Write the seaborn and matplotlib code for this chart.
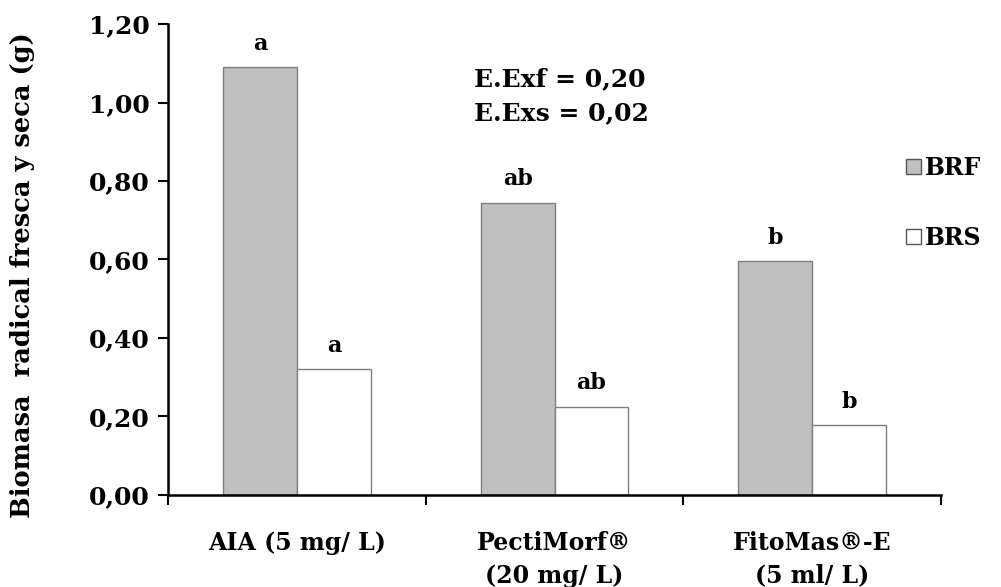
import matplotlib
matplotlib.use("Agg")
import matplotlib.pyplot as plt
import seaborn as sns
import pandas as pd

categories = ["AIA (5 mg/ L)", "PectiMorf®\n(20 mg/ L)", "FitoMas®-E\n(5 ml/ L)"]
series_names = ["BRF", "BRS"]
brf_values = [1.09, 0.745, 0.595]
brs_values = [0.32, 0.225, 0.178]
brf_letters = ["a", "ab", "b"]
brs_letters = ["a", "ab", "b"]
y_ticks = [0.0, 0.2, 0.4, 0.6, 0.8, 1.0, 1.2]
y_ticklabels = ["0,00", "0,20", "0,40", "0,60", "0,80", "1,00", "1,20"]

df = pd.DataFrame({
    "Tratamiento": categories * 2,
    "Serie": [series_names[0]] * 3 + [series_names[1]] * 3,
    "Valor": brf_values + brs_values,
})

sns.set_style("white")
plt.rcParams['font.family'] = ['DejaVu Serif']
plt.rcParams['font.weight'] = 'bold'
plt.rcParams['text.color'] = 'black'
plt.rcParams['xtick.color'] = 'black'
plt.rcParams['ytick.color'] = 'black'
plt.rcParams['axes.labelcolor'] = 'black'

fig = plt.figure(figsize=(10.01, 5.87), dpi=100)
ax = fig.add_axes([0.168, 0.157, 0.772, 0.802])

sns.barplot(data=df, x="Tratamiento", y="Valor", hue="Serie", order=categories,
            hue_order=series_names, palette={"BRF": "#C0C0C0", "BRS": "#FFFFFF"},
            width=0.574, gap=0, edgecolor="#7F7F7F", linewidth=1.0, ax=ax,
            legend=True)

# letters
letters = brf_letters + brs_letters
for patch, lab in zip(ax.patches[:6], letters):
    x = patch.get_x() + patch.get_width() / 2
    y = patch.get_height()
    ax.annotate(lab, (x, y), xytext=(0, 9), textcoords="offset points",
                ha="center", va="bottom", fontsize=16, fontweight="bold", color="black")

ax.set_xlim(-0.5, 2.5)
ax.set_ylim(0, 1.2)
ax.set_yticks(y_ticks)
ax.set_yticklabels(y_ticklabels)
ax.set_xticks([-0.5, 0.5, 1.5, 2.5])
ax.set_xticklabels([])
ax.set_xticks([0, 1, 2], minor=True)
ax.set_xticklabels(categories, minor=True, linespacing=1.45)
ax.tick_params(left=True, bottom=True)
ax.tick_params(axis="x", which="minor", bottom=True, length=0, pad=26, labelsize=17)
ax.tick_params(axis="x", which="major", length=7, width=1.5, direction="out", color="black")
ax.tick_params(axis="y", length=7, width=1.5, direction="out", color="black", labelsize=18, pad=6)
for lbl in ax.get_xticklabels(minor=True) + ax.get_yticklabels():
    lbl.set_fontweight("bold")

ax.set_xlabel("")
ax.set_ylabel("Biomasa  radical fresca y seca (g)", fontsize=18.5, fontweight="bold")
ax.yaxis.set_label_coords(-0.172, 0.467)

for s in ["top", "right"]:
    ax.spines[s].set_visible(False)
for s in ["left", "bottom"]:
    ax.spines[s].set_color("black")
    ax.spines[s].set_linewidth(1.8)

ax.text(0.396, 0.908, "E.Exf = 0,20\nE.Exs = 0,02", transform=ax.transAxes,
        fontsize=18, fontweight="bold", va="top", ha="left", linespacing=1.5)

leg = ax.legend(loc="upper left", bbox_to_anchor=(0.896, 0.75), bbox_transform=fig.transFigure,
                frameon=False, handlelength=0.6, handleheight=0.6, handletextpad=0.2,
                labelspacing=1.95, borderaxespad=0, prop={"size": 17, "weight": "bold"})
for h in leg.legend_handles:
    h.set_edgecolor("#555555")
    h.set_linewidth(1.0)

fig.savefig("out.png", dpi=100)
